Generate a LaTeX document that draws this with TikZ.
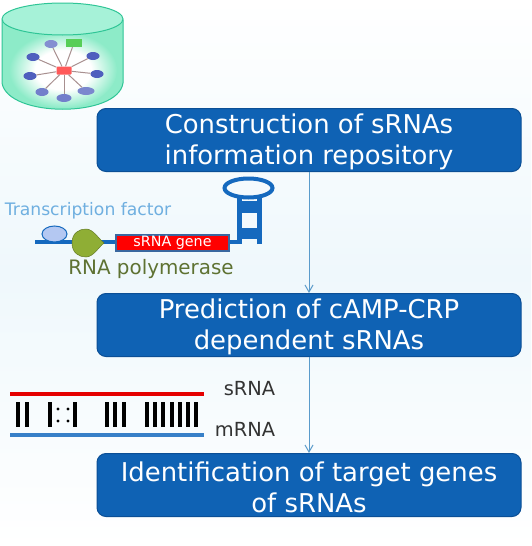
\documentclass[tikz,border=0pt]{standalone}
\usepackage{fontspec}
\setmainfont{DejaVu Sans}
\usetikzlibrary{arrows.meta,shapes.geometric}
\definecolor{boxblue}{HTML}{0F62B4}
\definecolor{boxedge}{HTML}{0B4F96}
\definecolor{linkblue}{HTML}{5A9BCB}
\definecolor{dbfill}{HTML}{8DEBC8}
\definecolor{dbtop}{HTML}{A6F2D8}
\definecolor{dbedge}{HTML}{2FC596}
\definecolor{stem}{HTML}{1569BE}
\definecolor{polgreen}{HTML}{8FAE35}
\definecolor{poltext}{HTML}{5E7232}
\definecolor{tftext}{HTML}{6FAFE0}
\definecolor{netblue}{HTML}{4F5FBE}
\definecolor{netline}{HTML}{A89090}
\definecolor{paper}{HTML}{EFF8FC}
\definecolor{tfill}{HTML}{B4C8F2}
\pgfdeclareradialshading{glow}{\pgfpoint{0bp}{0bp}}{%
  color(0bp)=(white); color(13bp)=(white); color(25bp)=(dbfill); color(100bp)=(dbfill)}
\tikzset{
  stepbox/.style={draw=boxedge,line width=1pt,fill=boxblue,rounded corners=9pt,
    minimum width=424pt,minimum height=63pt},
  steptext/.style={text=white,align=center,inner sep=0pt,yshift=-2pt,font=\fontsize{25.9}{31}\selectfont},
  flow/.style={draw=linkblue,line width=1pt,-{Straight Barb[length=7pt,width=8pt]}},
  rnaword/.style={font=\fontsize{19.4}{22}\selectfont,text=black!80,inner sep=0pt},
  pair/.style={line width=4pt,black},
  netnode/.style={ellipse,fill=netblue,minimum width=13pt,minimum height=8pt,inner sep=0pt},
  netedge/.style={draw=netline,line width=1pt},
}
\begin{document}
\begin{tikzpicture}[x=1pt,y=-1pt]
\useasboundingbox (0,0) rectangle (531,546);
\fill[top color=white,bottom color=white,middle color=paper] (0,0) rectangle (531,546);

% repository cylinder
\path[fill=dbfill,draw=dbedge,line width=1pt]
  (2,20) -- (2,83) .. controls (8,118) and (118,118) .. (123,83) -- (123,20) -- cycle;
\shade[shading=glow,draw=none] (63,70) ellipse (54 and 38);
\path[fill=dbtop,draw=dbedge,line width=1pt] (62.5,19) ellipse (60.5 and 16);

% small interaction network inside the cylinder
\node[fill=red!65!white,minimum width=15pt,minimum height=8pt,inner sep=0pt,rounded corners=1pt] (hub) at (64,70.5) {};
\node[fill=green!55!gray!85!white,minimum width=16pt,minimum height=8pt,inner sep=0pt] (n1) at (74,43) {};
\node[netnode,fill=netblue!70!white] (n2) at (51,44) {};
\node[netnode] (n3) at (93,56) {};
\node[netnode] (n4) at (33,57) {};
\node[netnode] (n5) at (97,74) {};
\node[netnode] (n6) at (30,76) {};
\node[netnode,fill=netblue!75!white,minimum width=17pt] (n7) at (86,91) {};
\node[netnode,fill=netblue!80!white] (n8) at (42,92) {};
\node[netnode,fill=netblue!80!white,minimum width=15pt] (n9) at (64,98) {};
\foreach \n in {n1,n2,n3,n4,n5,n6,n7,n8,n9} \draw[netedge] (hub) -- (\n);

% workflow steps
\node[stepbox] (s1) at (309,140) {};
\node[stepbox] (s2) at (309,325) {};
\node[stepbox] (s3) at (309,485) {};
\node[steptext] (t1) at (s1.center) {Construction of sRNAs\\information repository};
\node[steptext] (t2) at (s2.center) {Prediction of cAMP-CRP\\dependent sRNAs};
\node[steptext] (t3) at (s3.center) {Identification of target genes\\of sRNAs};
\draw[flow] (s1) -- (s2);
\draw[flow] (s2) -- (s3);

% promoter, gene and terminator hairpin
\coordinate (dnaL) at (35,242);
\coordinate (dnaR) at (239,242);
\draw[stem,line width=4pt] (dnaL) -- (dnaR);
\draw[stem,line width=5pt] (239,244) -- (239,196);
\draw[stem,line width=5pt] (259,244) -- (259,196);
\fill[stem] (239,201) rectangle (259,213);
\fill[stem] (239,228) rectangle (259,239);
\draw[stem,line width=4pt] (248.5,188) ellipse (24 and 9.5);
\path[fill=tfill,draw=stem,line width=1pt] (54.5,234) ellipse (12.5 and 8);
\path[fill=polgreen,draw=polgreen!70!black,line width=0.5pt]
  (72,243) .. controls (72,233) and (79,229) .. (86,229)
  .. controls (93,229) and (98,238) .. (104,243)
  .. controls (98,248) and (93,257) .. (86,257)
  .. controls (79,257) and (72,253) .. (72,243) -- cycle;
\node[draw=cyan!50!blue!75!black,line width=2pt,fill=red,text=white,minimum width=113pt,minimum height=16pt,
  inner sep=0pt,font=\fontsize{14.3}{16}\selectfont] (gene) at (172.5,243) {sRNA gene};
\node[inner sep=0pt,text=tftext,font=\fontsize{17.2}{20}\selectfont] (tf) at (88,211) {Transcription factor};
\node[inner sep=0pt,text=poltext,font=\fontsize{19.9}{23}\selectfont] (pol) at (151,269) {RNA polymerase};

% sRNA-mRNA base pairing
\coordinate (rL) at (10,394); \coordinate (rR) at (204,394);
\coordinate (mL) at (10,435); \coordinate (mR) at (204,435);
\draw[red!90!black,line width=4.6pt] (rL) -- (rR);
\draw[stem!85!white,line width=4.6pt] (mL) -- (mR);
\foreach \x in {18,27,50,75,107,115,124,147,155,163,172,180,188,196}
  \draw[pair] (\x,402) -- (\x,427);
\foreach \x in {58,68}{
  \fill (\x,409) circle (1.7);
  \fill (\x,421) circle (1.7);
}
\node[rnaword] (srna) at (249.5,389) {sRNA};
\node[rnaword] (mrna) at (245,429) {mRNA};
\end{tikzpicture}
\end{document}
